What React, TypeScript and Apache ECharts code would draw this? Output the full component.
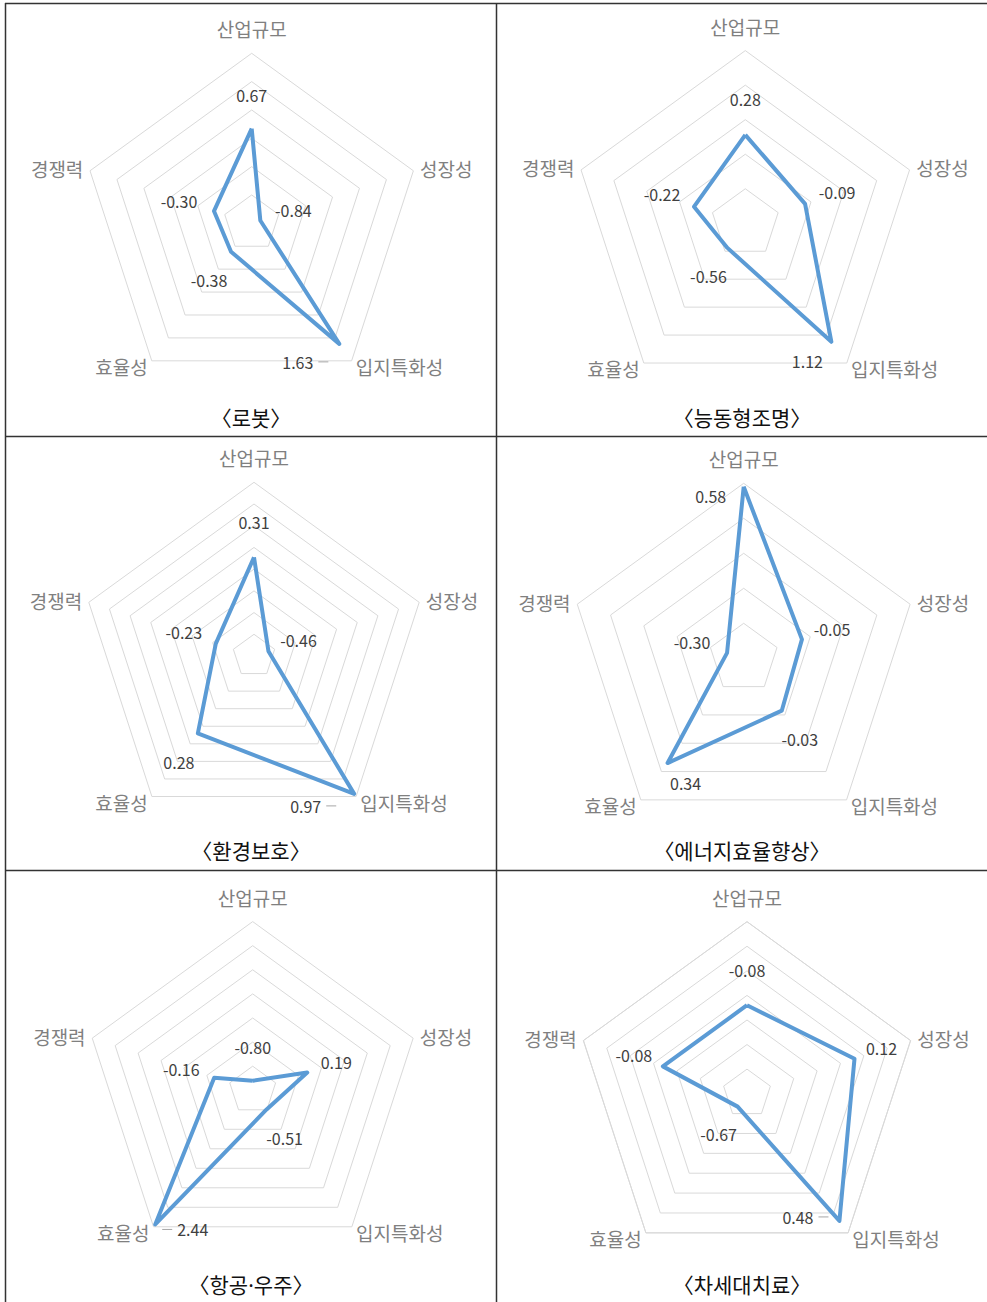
import React, { useEffect, useRef } from 'react';
import * as echarts from 'echarts';

// Indicator names, in clockwise order starting from the top
const AXES = ['산업규모', '성장성', '입지특화성', '효율성', '경쟁력'];

const TITLES = ['〈로봇〉', '〈능동형조명〉', '〈환경보호〉', '〈에너지효율향상〉', '〈항공·우주〉', '〈차세대치료〉'];

// Scores per industry, same order as AXES
const ROBOT = [0.67, -0.84, 1.63, -0.38, -0.3];
const LIGHTING = [0.28, -0.09, 1.12, -0.56, -0.22];
const ENVIRONMENT = [0.31, -0.46, 0.97, 0.28, -0.23];
const ENERGY = [0.58, -0.05, -0.03, 0.34, -0.3];
const AEROSPACE = [-0.8, 0.19, -0.51, 2.44, -0.16];
const MEDICAL = [-0.08, 0.12, 0.48, -0.67, -0.08];

const VALUES = [ROBOT, LIGHTING, ENVIRONMENT, ENERGY, AEROSPACE, MEDICAL];

// Radial scale of each chart
const AXIS_MIN = [-1, -1, -0.6, -0.4, -1, -0.8];
const AXIS_MAX = [2, 1.5, 1.0, 0.6, 2.5, 0.6];
const SPLITS = [6, 5, 8, 5, 7, 7];

// ---- layout ----
const W = 987;
const H = 1302;
const FONT = '"Noto Sans CJK KR", "Noto Sans", sans-serif';
const TITLE_FONT = '"Noto Sans", "Noto Sans CJK KR", sans-serif';
const CENTERS = [
  [251.7, 223.3],
  [745.3, 223.3],
  [254, 656],
  [743.7, 658.3],
  [252.7, 1090.3],
  [747, 1093.7],
];
const RADII = [170, 172.7, 173.7, 175, 168.7, 172];
const TITLE_POS = [
  [251, 418],
  [742, 418],
  [251, 851],
  [742, 851],
  [251, 1285],
  [742, 1285],
];

// Value-label offsets from their point, per chart, in AXES order
const LABEL_OFFSETS = [
  [[0, -34], [33, -10], [-34, 18], [-22, 28], [-35, -10]],
  [[0, -36], [32, -12], [-24, 19], [-19, 28], [-32, -13]],
  [[0, -35], [30, -11], [-41, 12], [-19, 29], [-32, -12]],
  [[-33, 9], [30, -10], [18, 28], [18, 20], [-35, -11]],
  [[0, -34], [29, -11], [18, 29], [30, 5], [-33, -9]],
  [[0, -35], [27, -11], [-34, -4], [-19, 27], [-29, -11]],
];
// Short leader line beside some labels
const LEADERS = [
  [null, null, 'after', null, null],
  [null, null, null, null, null],
  [null, null, 'after', null, null],
  [null, null, null, null, null],
  [null, null, null, 'before', null],
  [null, null, 'after', null, null],
];

// ECharts lays indicators out counter-clockwise; map to clockwise reading order
const ORDER = [0, 4, 3, 2, 1];

export default function App() {
  const ref = useRef<HTMLDivElement>(null);

  useEffect(() => {
    if (!ref.current) return;
    const chart = echarts.init(ref.current, null, { renderer: 'svg' });

    const radar = VALUES.map((_, c) => ({
      center: CENTERS[c],
      radius: RADII[c],
      startAngle: 90,
      splitNumber: SPLITS[c],
      shape: 'polygon',
      nameGap: 7,
      indicator: ORDER.map((i) => ({ name: AXES[i], min: AXIS_MIN[c], max: AXIS_MAX[c] })),
      axisName: {
        color: '#808080',
        fontSize: 19,
        fontFamily: FONT,
        formatter: (name: string) => (name === AXES[0] ? `{top|${name}}` : name),
        rich: {
          top: { color: '#808080', fontSize: 19, fontFamily: FONT, padding: [0, 0, 8, 0] },
        },
      },
      splitLine: { lineStyle: { color: '#d9d9d9', width: 1 } },
      splitArea: { show: false },
      axisLine: { show: false },
      axisTick: { show: false },
      axisLabel: { show: false },
    }));

    const series: any[] = [];
    VALUES.forEach((vals, c) => {
      const ordered = ORDER.map((i) => vals[i]);
      series.push({
        type: 'radar',
        radarIndex: c,
        silent: true,
        symbol: 'none',
        lineStyle: { color: '#5B9BD5', width: 4 },
        data: [{ value: ordered }],
        z: 3,
      });
      series.push({
        type: 'radar',
        radarIndex: c,
        silent: true,
        symbol: 'circle',
        symbolSize: 1,
        itemStyle: { color: 'rgba(0,0,0,0)' },
        lineStyle: { width: 0, opacity: 0 },
        z: 4,
        data: ORDER.map((d, j) => {
          const text = vals[d].toFixed(2);
          const lead = LEADERS[c][d];
          const str =
            lead === 'after' ? `{v|${text}}{s|}{l|}` : lead === 'before' ? `{l|}{s|}{v|${text}}` : `{v|${text}}`;
          return {
            value: ordered,
            label: {
              show: true,
              position: 'inside',
              offset: LABEL_OFFSETS[c][d],
              formatter: (p: any) => (p.dimensionIndex === j ? str : ''),
              rich: {
                v: { color: '#404040', fontSize: 16, fontFamily: FONT },
                s: { width: 5, height: 1 },
                l: { width: 10, height: 1, backgroundColor: '#a6a6a6' },
              },
            },
          };
        }),
      });
    });

    const graphic: any[] = [];
    const border = { stroke: '#333', lineWidth: 1.5 };
    const lines = [
      [5, 3.5, W, 3.5],
      [5.5, 3, 5.5, H],
      [496.5, 3, 496.5, H],
      [5, 436.5, W, 436.5],
      [5, 870.5, W, 870.5],
    ];
    lines.forEach(([x1, y1, x2, y2]) =>
      graphic.push({ type: 'line', silent: true, shape: { x1, y1, x2, y2 }, style: border })
    );
    TITLES.forEach((t, c) =>
      graphic.push({
        type: 'text',
        silent: true,
        x: TITLE_POS[c][0],
        y: TITLE_POS[c][1],
        style: {
          text: t,
          fill: '#111',
          font: `21px ${TITLE_FONT}`,
          textAlign: 'center',
          textVerticalAlign: 'middle',
        },
      })
    );

    chart.setOption({
      animation: false,
      backgroundColor: '#fff',
      radar,
      series,
      graphic,
    });

    return () => chart.dispose();
  }, []);

  return <div ref={ref} style={{ position: 'absolute', left: 0, top: 0, width: W, height: H }} />;
}
